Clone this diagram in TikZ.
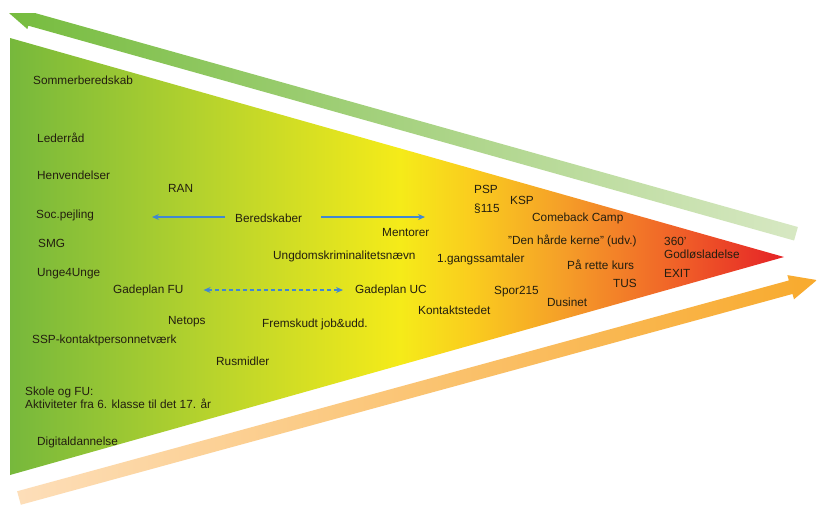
\documentclass[tikz,border=0pt]{standalone}
\usepackage{fontspec}
\setmainfont{Liberation Sans}
\usetikzlibrary{arrows.meta}
\definecolor{cgreen}{RGB}{118,184,60}
\definecolor{cgreenB}{RGB}{180,210,45}
\definecolor{cyellow}{RGB}{245,235,25}
\definecolor{cyelor}{RGB}{250,205,30}
\definecolor{corange}{RGB}{245,160,40}
\definecolor{credor}{RGB}{240,95,40}
\definecolor{cred}{RGB}{228,30,38}
\definecolor{garL}{RGB}{118,188,62}
\definecolor{garR}{RGB}{215,232,195}
\definecolor{oarL}{RGB}{253,222,185}
\definecolor{oarR}{RGB}{248,170,45}
\definecolor{arrblue}{RGB}{65,135,210}
\definecolor{txt}{RGB}{35,30,15}
\begin{document}
\begin{tikzpicture}[x=1pt,y=-1pt,
  lbl/.style={anchor=west,inner sep=0pt,text=txt,font=\fontsize{11.8}{13}\selectfont},
  bluearr/.style={draw=arrblue,line width=1.3pt,-{Stealth[length=7pt,width=6pt]}},
  bluedash/.style={draw=arrblue,line width=1.3pt,dash pattern=on 4pt off 3pt,{Stealth[length=7pt,width=6pt]}-{Stealth[length=7pt,width=6pt]}}]
\useasboundingbox (0,0) rectangle (822,507);
\fill[white] (0,0) rectangle (822,507);
% main triangle with gradient
\begin{scope}
  \clip (10,38) -- (784,257) -- (10,475) -- cycle;
  \shade[left color=cgreen,right color=cgreenB] (9,30) rectangle (200.5,480);
  \shade[left color=cgreenB,right color=cyellow] (200,30) rectangle (400.5,480);
  \shade[left color=cyellow,right color=cyelor] (400,30) rectangle (470.5,480);
  \shade[left color=cyelor,right color=corange] (470,30) rectangle (560.5,480);
  \shade[left color=corange,right color=credor] (560,30) rectangle (680.5,480);
  \shade[left color=credor,right color=cred] (680,30) rectangle (790,480);
\end{scope}
% green arrow (top, pointing left)
\begin{scope}
  \clip (0,13) rectangle (822,507);
  \begin{scope}[shift={(9,13)},rotate=-15.67]
    \shade[left color=garL,right color=garR]
      (0,0) -- (22,10.5) -- (22,7) -- (817.4,7) -- (817.4,-7) -- (22,-7) -- (22,-10.5) -- cycle;
  \end{scope}
\end{scope}
% orange arrow (bottom, pointing right)
\begin{scope}[shift={(19,498)},rotate=15.28]
  \shade[left color=oarL,right color=oarR]
    (0,7) -- (800,7) -- (800,12.5) -- (827.2,0) -- (800,-12.5) -- (800,-7) -- (0,-7) -- cycle;
\end{scope}
% labels
\node[lbl] (som) at (33,80) {Sommerberedskab};
\node[lbl] (led) at (37,138) {Lederråd};
\node[lbl] (hen) at (37,175) {Henvendelser};
\node[lbl] (ran) at (168,188) {RAN};
\node[lbl] (soc) at (36,215) {Soc.pejling};
\node[lbl] (bered) at (235,218) {Beredskaber};
\node[lbl] (smg) at (38,243) {SMG};
\node[lbl] (ment) at (382,232) {Mentorer};
\node[lbl] (ungk) at (273,256) {Ungdomskriminalitetsnævn};
\node[lbl] (gang) at (437,259) {1.gangssamtaler};
\node[lbl] (u4u) at (37,274) {Unge4Unge};
\node[lbl] (gfu) at (113,290) {Gadeplan FU};
\node[lbl] (guc) at (355,290) {Gadeplan UC};
\node[lbl] (net) at (168,322) {Netops};
\node[lbl] (frem) at (262,324) {Fremskudt job\&udd.};
\node[lbl] (ssp) at (32,340) {SSP-kontaktpersonnetværk};
\node[lbl] (rus) at (216,361) {Rusmidler};
\node[lbl,anchor=north west,align=left] (skole) at (25,387) {Skole og FU:\\Aktiviteter fra 6. klasse til det 17. år};
\node[lbl] (digi) at (37,442) {Digitaldannelse};
\node[lbl] (kont) at (418,310) {Kontaktstedet};
\node[lbl] (spor) at (494,292) {Spor215};
\node[lbl] (dus) at (547,302) {Dusinet};
\node[lbl] (paa) at (567,265) {På rette kurs};
\node[lbl] (tus) at (613,283) {TUS};
\node[lbl] (exit) at (664,273) {EXIT};
\node[lbl] (god) at (664,254) {Godløsladelse};
\node[lbl] (s360) at (664,241) {360'};
\node[lbl] (psp) at (474,189) {PSP};
\node[lbl] (p115) at (474,209) {§115};
\node[lbl] (ksp) at (510,200) {KSP};
\node[lbl] (come) at (532,218) {Comeback Camp};
\node[lbl] (den) at (508,241) {"Den hårde kerne" (udv.)};
% blue connectors
\coordinate (berL) at (152,217);
\coordinate (berR) at (425,217);
\draw[bluearr] ([xshift=-10pt,yshift=1pt]bered.west) -- (berL);
\draw[bluearr] (bered.east |- berR) ++(19,0) -- (berR);
\draw[bluedash] ([xshift=20pt]gfu.east) -- ([xshift=-12pt]guc.west);
\end{tikzpicture}
\end{document}
